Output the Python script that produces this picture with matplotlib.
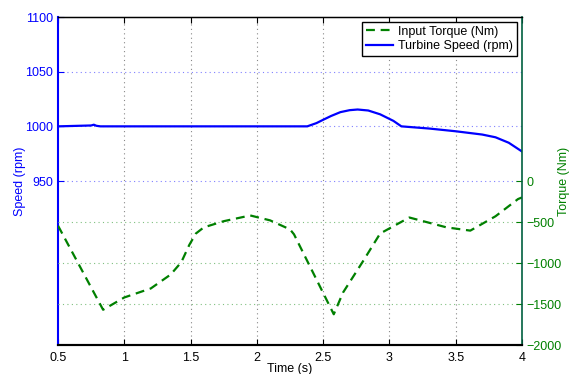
"""
Turbine speed and input torque vs time (two y axes)
"""

import matplotlib.pyplot as plt

plt.rcParams["font.family"] = ["Liberation Sans", "DejaVu Sans"]
plt.rcParams["font.size"] = 9

# Turbine speed (rpm)
speed_time = [0.5, 0.75, 0.77, 0.79, 0.82, 1.0, 2.0, 2.38, 2.45, 2.5, 2.56,
              2.63, 2.7, 2.76, 2.84, 2.93, 3.03, 3.09, 3.3, 3.5, 3.7, 3.8,
              3.9, 4.0]
speed = [1000, 1000.8, 1001.5, 1000.5, 1000, 1000, 1000, 1000, 1003, 1006,
         1009.5, 1013, 1014.8, 1015.4, 1014.5, 1011, 1005, 1000, 998, 995.5,
         992.5, 990, 985, 977]

# Input torque (Nm)
torque_time = [0.5, 0.84, 1.0, 1.2, 1.35, 1.43, 1.49, 1.54, 1.6, 1.75, 1.95,
               2.1, 2.25, 2.28, 2.58, 2.65, 2.8, 2.93, 3.15, 3.43, 3.61, 3.8,
               3.97, 4.0]
torque = [-545, -1570, -1420, -1310, -1140, -990, -780, -640, -565, -490,
          -420, -480, -590, -650, -1625, -1360, -980, -640, -445, -565, -605,
          -430, -220, -200]

x_ticks = [0.5, 1, 1.5, 2, 2.5, 3, 3.5, 4]
speed_ticks = [950, 1000, 1050, 1100]
torque_ticks = [-2000, -1500, -1000, -500, 0]

blue = "#0000ff"
green = "#008000"

fig = plt.figure(figsize=(5.7, 3.74), dpi=100)
ax1 = fig.add_axes([0.1018, 0.0775, 0.814, 0.877])
ax2 = ax1.twinx()

l2, = ax1.plot(speed_time, speed, color=blue, lw=1.6,
               label="Turbine Speed (rpm)")
l1, = ax2.plot(torque_time, torque, color=green, lw=1.6, ls=(0, (4, 2.6)),
               label="Input Torque (Nm)")

ax1.set_xlim(0.5, 4)
ax1.set_ylim(800, 1100)
ax2.set_ylim(-2000, 2000)
ax1.set_xticks(x_ticks)
ax1.set_xticklabels(["0.5", "1", "1.5", "2", "2.5", "3", "3.5", "4"])
ax1.set_yticks(speed_ticks)
ax2.set_yticks(torque_ticks)

# grid lines
for x in x_ticks[1:-1]:
    ax1.axvline(x, color="#888888", ls=(0, (1, 3)), lw=0.8, zorder=0)
for y in speed_ticks[:-1]:
    ax1.axhline(y, color="#8080ff", ls=(0, (1, 3)), lw=0.8, zorder=0)
for y in torque_ticks[1:-1]:
    ax2.axhline(y, color="#80c080", ls=(0, (1, 3)), lw=0.8, zorder=0)

ax1.tick_params(axis="x", direction="in", top=True, length=4, colors="black",
                pad=5)
ax1.tick_params(axis="y", direction="in", length=4, colors=blue)
ax2.tick_params(axis="y", direction="in", length=4, colors=green)

ax1.spines["left"].set_color(blue)
ax1.spines["left"].set_linewidth(1.5)
ax2.spines["left"].set_visible(False)
ax2.spines["right"].set_color("#006040")
ax2.spines["right"].set_linewidth(1.2)
ax1.spines["right"].set_visible(False)
ax1.spines["bottom"].set_linewidth(1.5)
ax2.spines["bottom"].set_linewidth(1.5)
ax1.spines["top"].set_linewidth(1.0)

ax1.set_xlabel("Time (s)")
ax1.xaxis.set_label_coords(0.5, -0.055, transform=ax1.transAxes)
ax1.xaxis.label.set_va("top")
ax1.set_ylabel("Speed (rpm)", color=blue)
ax1.yaxis.set_label_coords(-0.083, 0.5)
ax1.yaxis.label.set_va("center")
ax2.set_ylabel("Torque (Nm)", color=green)
ax2.yaxis.set_label_coords(1.09, 0.5)
ax2.yaxis.label.set_va("center")

leg = ax1.legend([l1, l2], ["Input Torque (Nm)", "Turbine Speed (rpm)"],
                 loc="upper right", fancybox=False, framealpha=1,
                 edgecolor="black", borderpad=0.3, labelspacing=0.2,
                 handlelength=2.2, handletextpad=0.4, borderaxespad=0,
                 bbox_to_anchor=(0.989, 0.985))
leg.get_frame().set_linewidth(1.0)
leg.set_zorder(10)

plt.savefig("out.png", dpi=100)
plt.close()
